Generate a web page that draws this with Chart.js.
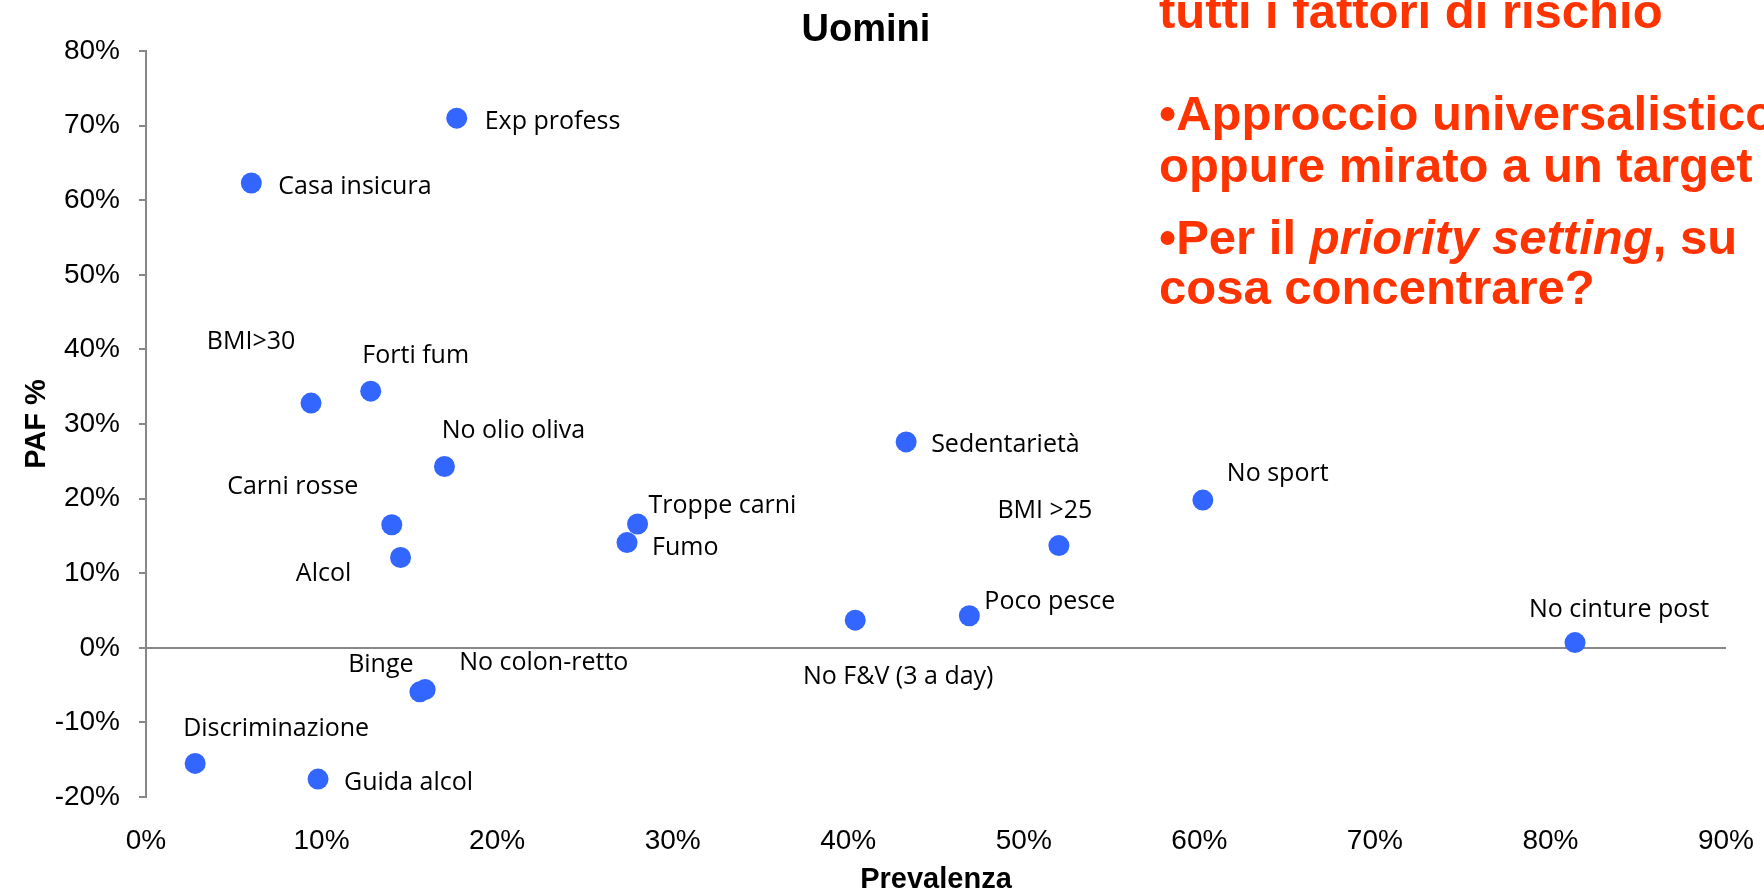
<!DOCTYPE html>
<html lang="it">
<head>
<meta charset="utf-8">
<title>Uomini - PAF vs Prevalenza</title>
<script src="https://cdn.jsdelivr.net/npm/chart.js@4.4.1/dist/chart.umd.min.js"></script>
<style>
    html, body { margin: 0; padding: 0; background: #fff; overflow: hidden; }
    #wrap { position: relative; width: 1764px; height: 891px; }
    #paf { position: absolute; left: 0; top: 0; }
    .note {
        position: absolute;
        left: 1159px;
        font-family: "Liberation Sans", Arial, sans-serif;
        font-weight: bold;
        font-size: 49px;
        line-height: 49px;
        color: #ff3300;
        white-space: nowrap;
    }
</style>
</head>
<body>
<div id="wrap">
    <canvas id="paf" width="1764" height="891"></canvas>
    <div class="note" style="top:-13px;">tutti i fattori di rischio</div>
    <div class="note" style="top:89px;">•Approccio universalistico</div>
    <div class="note" style="top:141px;">oppure mirato a un target</div>
    <div class="note" style="top:213px;">•Per il <i>priority setting</i>, su</div>
    <div class="note" style="top:263px;">cosa concentrare?</div>
</div>

<script>
// ====== DATA ======
const riskFactors = [
    'Exp profess', 'Casa insicura', 'BMI>30', 'Forti fum', 'No olio oliva',
    'Carni rosse', 'Alcol', 'Troppe carni', 'Fumo', 'Sedentarietà',
    'No sport', 'BMI >25', 'No F&V (3 a day)', 'Poco pesce', 'No cinture post',
    'Binge', 'No colon-retto', 'Discriminazione', 'Guida alcol'
];
// Prevalenza (%)
const prevalence = [
    17.7, 6.0, 9.4, 12.8, 17.0,
    14.0, 14.5, 28.0, 27.4, 43.3,
    60.2, 52.0, 40.4, 46.9, 81.4,
    15.6, 15.9, 2.8, 9.8
];
// PAF (%)
const paf = [
    71.0, 62.3, 32.8, 34.4, 24.3,
    16.5, 12.1, 16.6, 14.1, 27.6,
    19.8, 13.7, 3.7, 4.3, 0.7,
    -5.9, -5.6, -15.5, -17.6
];
const xTicks = [0, 10, 20, 30, 40, 50, 60, 70, 80, 90];
const yTicks = [-20, -10, 0, 10, 20, 30, 40, 50, 60, 70, 80];

// label placement next to each point: [dx, dy, align] in pixels
const labelOffsets = [
    [28, 1, 'left'], [27, 1, 'left'], [-60, -64, 'center'], [45, -38, 'center'], [69, -39, 'center'],
    [-99, -41, 'center'], [-77, 13, 'center'], [11, -21, 'left'], [25, 2, 'left'], [25, 0, 'left'],
    [24, -29, 'left'], [-14, -38, 'center'], [43, 54, 'center'], [15, -17, 'left'], [44, -36, 'center'],
    [-39, -30, 'center'], [34, -30, 'left'], [81, -38, 'center'], [26, 1, 'left']
];

const tickFont = { family: 'Liberation Sans', size: 28 };
const axisGrey = '#888888';

// ====== PLUGIN: point labels + titles ======
const decorPlugin = {
    id: 'decor',
    afterDatasetsDraw(chart) {
        const ctx = chart.ctx;
        const meta = chart.getDatasetMeta(0);
        ctx.save();
        ctx.fillStyle = '#000';
        ctx.textBaseline = 'middle';
        ctx.font = '25px "Open Sans"';
        meta.data.forEach((pt, i) => {
            const [dx, dy, align] = labelOffsets[i];
            ctx.textAlign = align;
            ctx.fillText(riskFactors[i], pt.x + dx, pt.y + dy + 3);
        });

        const area = chart.chartArea;
        ctx.textAlign = 'center';
        ctx.font = 'bold 38px "Liberation Sans"';
        ctx.fillText('Uomini', 866, 31);

        ctx.font = 'bold 29px "Liberation Sans"';
        ctx.fillText('Prevalenza', (area.left + area.right) / 2, 880);

        ctx.translate(37, (area.top + area.bottom) / 2);
        ctx.rotate(-Math.PI / 2);
        ctx.fillText('PAF %', 0, 0);
        ctx.restore();
    }
};

// ====== CHART ======
const points = prevalence.map((x, i) => ({ x: x, y: paf[i] }));

new Chart(document.getElementById('paf'), {
    type: 'scatter',
    data: {
        datasets: [{
            data: points,
            pointRadius: 10.5,
            pointHoverRadius: 10.5,
            pointBackgroundColor: '#3366ff',
            pointBorderWidth: 0
        }]
    },
    options: {
        responsive: false,
        devicePixelRatio: 1,
        animation: false,
        layout: { padding: { top: 51, right: 38, bottom: 0, left: 0 } },
        plugins: {
            legend: { display: false },
            tooltip: { enabled: false }
        },
        scales: {
            x: {
                type: 'linear',
                min: xTicks[0],
                max: xTicks[xTicks.length - 1],
                afterBuildTicks: s => { s.ticks = xTicks.map(v => ({ value: v })); },
                afterFit: s => { s.height = 94; s.paddingLeft = 0; s.paddingRight = 0; },
                ticks: {
                    callback: v => v + '%',
                    font: tickFont,
                    color: '#000',
                    padding: 27,
                    maxRotation: 0
                },
                grid: { display: false, drawTicks: false },
                border: { display: false }
            },
            y: {
                type: 'linear',
                min: yTicks[0],
                max: yTicks[yTicks.length - 1],
                afterBuildTicks: s => { s.ticks = yTicks.map(v => ({ value: v })); },
                afterFit: s => { s.width = 146; },
                ticks: {
                    callback: v => v + '%',
                    font: tickFont,
                    color: '#000',
                    padding: 19
                },
                grid: {
                    color: c => (c.tick && c.tick.value === 0) ? axisGrey : 'rgba(0,0,0,0)',
                    lineWidth: 2,
                    tickColor: axisGrey,
                    tickLength: 7
                },
                border: { color: axisGrey, width: 2 }
            }
        }
    },
    plugins: [decorPlugin]
});
</script>
</body>
</html>
